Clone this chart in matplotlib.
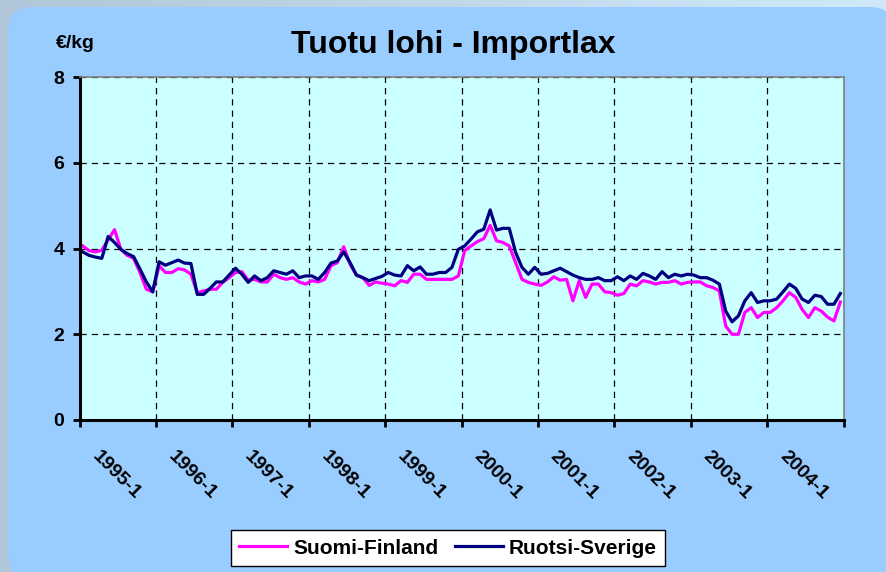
import numpy as np
import matplotlib.pyplot as plt
from matplotlib.patches import FancyBboxPatch
from matplotlib.colors import LinearSegmentedColormap

plt.rcParams['font.family'] = ['Liberation Sans Narrow', 'Liberation Sans', 'DejaVu Sans']
plt.rcParams['font.weight'] = 'bold'

# monthly prices, 1995-1 ... 2004-12 (EUR/kg)
years = list(range(1995, 2005))
tick_labels = [f"{y}-1" for y in years]

suomi = [4.06, 3.95, 3.92, 3.96, 4.20, 4.44, 3.98, 3.84, 3.77, 3.44, 3.05, 2.99,
         3.60, 3.44, 3.44, 3.53, 3.50, 3.40, 2.97, 3.01, 3.05, 3.05, 3.21, 3.32,
         3.44, 3.46, 3.26, 3.28, 3.22, 3.22, 3.40, 3.32, 3.28, 3.32, 3.22, 3.17,
         3.25, 3.22, 3.28, 3.60, 3.67, 4.04, 3.63, 3.38, 3.32, 3.14, 3.22, 3.19,
         3.17, 3.13, 3.25, 3.21, 3.40, 3.40, 3.28, 3.28, 3.28, 3.28, 3.28, 3.36,
         3.95, 4.06, 4.16, 4.23, 4.54, 4.18, 4.14, 4.06, 3.67, 3.28, 3.21, 3.17,
         3.14, 3.22, 3.34, 3.26, 3.28, 2.78, 3.25, 2.86, 3.17, 3.17, 2.99, 2.97,
         2.91, 2.95, 3.17, 3.13, 3.25, 3.22, 3.17, 3.21, 3.21, 3.25, 3.17, 3.21,
         3.22, 3.22, 3.13, 3.09, 3.01, 2.19, 2.00, 2.00, 2.51, 2.62, 2.39, 2.51,
         2.51, 2.62, 2.78, 2.97, 2.86, 2.58, 2.39, 2.62, 2.54, 2.40, 2.31, 2.75]

ruotsi = [3.92, 3.84, 3.80, 3.77, 4.28, 4.14, 3.98, 3.88, 3.81, 3.52, 3.22, 2.99,
          3.69, 3.61, 3.67, 3.73, 3.66, 3.65, 2.93, 2.93, 3.07, 3.22, 3.22, 3.38,
          3.54, 3.40, 3.21, 3.36, 3.25, 3.32, 3.48, 3.44, 3.40, 3.48, 3.32, 3.36,
          3.36, 3.28, 3.44, 3.66, 3.71, 3.92, 3.67, 3.38, 3.32, 3.25, 3.30, 3.35,
          3.44, 3.38, 3.36, 3.60, 3.48, 3.57, 3.40, 3.40, 3.44, 3.44, 3.56, 3.98,
          4.06, 4.22, 4.39, 4.45, 4.90, 4.43, 4.47, 4.47, 3.91, 3.56, 3.40, 3.56,
          3.40, 3.42, 3.48, 3.54, 3.46, 3.38, 3.32, 3.28, 3.28, 3.32, 3.25, 3.25,
          3.34, 3.25, 3.36, 3.28, 3.42, 3.36, 3.28, 3.46, 3.32, 3.40, 3.36, 3.40,
          3.38, 3.32, 3.32, 3.26, 3.17, 2.54, 2.29, 2.43, 2.78, 2.97, 2.74, 2.78,
          2.78, 2.82, 2.99, 3.17, 3.07, 2.82, 2.74, 2.91, 2.88, 2.70, 2.70, 2.95]

W, H = 886, 572
fig = plt.figure(figsize=(W / 100, H / 100), dpi=100)

# background: grey-blue gradient frame with a rounded light blue panel
bg = fig.add_axes([0, 0, 1, 1], zorder=-10)
cmap = LinearSegmentedColormap.from_list('bg', ['#b2c6d9', '#cfe9fb'])
bg.imshow(np.linspace(0, 1, 256)[None, :], aspect='auto', extent=(0, W, H, 0), cmap=cmap)
bg.add_patch(FancyBboxPatch((8, 7), W, H, boxstyle='round,pad=0,rounding_size=24',
                            fc='#99ccff', ec='none'))
bg.set_xlim(0, W)
bg.set_ylim(H, 0)
bg.axis('off')

left, right, top, bottom = 79.5, 843.5, 77, 420
ax = fig.add_axes([left / W, 1 - bottom / H, (right - left) / W, (bottom - top) / H])
ax.set_facecolor('#ccffff')

x = np.arange(len(suomi)) + 0.5
ax.plot(x, suomi, color='#ff00ff', lw=2.3, label='Suomi-Finland')
ax.plot(x, ruotsi, color='#000080', lw=2.3, label='Ruotsi-Sverige')

ax.set_xlim(0, 120)
ax.set_ylim(0, 8)
ax.set_yticks([0, 2, 4, 6, 8])
# year boundaries: minor ticks + grid; labels sit on invisible major ticks
ax.set_xticks(np.arange(0, 121, 12), minor=True)
ax.set_xticks(np.arange(0, 120, 12) + 3.3)
ax.set_xticklabels(tick_labels, rotation=-45, rotation_mode='anchor',
                   ha='left', va='top', fontsize=14)
ax.tick_params(axis='x', which='major', length=0, pad=20)
ax.tick_params(axis='x', which='minor', direction='out', length=5, width=2)
ax.tick_params(axis='y', labelsize=14, pad=6, direction='out', length=5, width=2)
ax.grid(True, axis='y', color='black', ls=(0, (5, 4)), lw=0.9)
ax.grid(True, axis='x', which='minor', color='black', ls=(0, (5, 4)), lw=0.9)
ax.set_axisbelow(True)

for s in ('left', 'bottom'):
    ax.spines[s].set_linewidth(2.2)
    ax.spines[s].set_color('black')
for s in ('top', 'right'):
    ax.spines[s].set_linewidth(1.2)
    ax.spines[s].set_color('#808080')

fig.text(453 / W, 1 - 45 / H, 'Tuotu lohi - Importlax', ha='center', va='center',
         fontsize=23, weight='bold')
fig.text(75 / W, 1 - 43 / H, '€/kg', ha='center', va='center', fontsize=14, weight='bold')

leg = fig.legend(loc='center', bbox_to_anchor=(448 / W, 1 - 548 / H), ncol=2,
                 fancybox=False, edgecolor='black', framealpha=1, fontsize=15,
                 handlelength=2.3, columnspacing=0.8, handletextpad=0.3, borderpad=0.4)
leg.get_frame().set_linewidth(1)

fig.savefig('out.png', dpi=100)
